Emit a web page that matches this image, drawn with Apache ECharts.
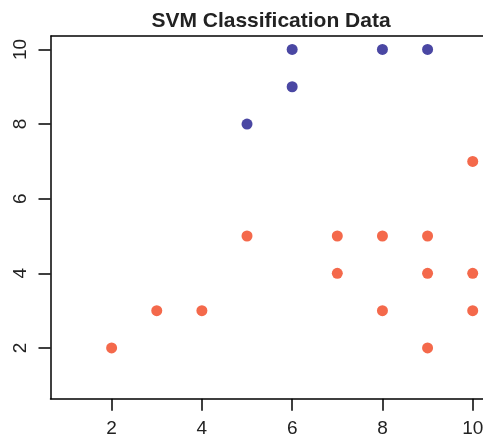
<!DOCTYPE html>
<html>
<head>
<meta charset="utf-8">
<script src="https://cdn.jsdelivr.net/npm/echarts@6/dist/echarts.min.js"></script>
<style>
  html, body { margin: 0; padding: 0; background: #fff; }
  #chart { width: 483px; height: 442px; }
</style>
</head>
<body>
<div id="chart"></div>
<script>
const xTicks = [2, 4, 6, 8, 10];
const yTicks = [2, 4, 6, 8, 10];
// class 1 (blue) and class -1 (orange), [x, y]
const blueX = [5, 6, 6, 8, 9];
const blueY = [8, 10, 9, 10, 10];
const orangeX = [2, 3, 4, 5, 7, 7, 8, 8, 9, 9, 9, 10, 10, 10];
const orangeY = [2, 3, 3, 5, 5, 4, 5, 3, 5, 4, 2, 7, 4, 3];

const pairs = (xs, ys) => xs.map((x, i) => [x, ys[i]]);

const chart = echarts.init(document.getElementById('chart'));

const font = 'Liberation Sans, Arial, sans-serif';
const axisCommon = {
  type: 'value',
  splitLine: { show: false },
  axisLine: { show: true, onZero: false, lineStyle: { color: '#000', width: 1.5 } },
  axisTick: {
    show: true, length: 12, inside: false,
    lineStyle: { color: '#000', width: 1.5 }
  },
  axisLabel: {
    color: '#222', fontSize: 19, fontFamily: font,
    margin: 21, showMinLabel: true, showMaxLabel: true
  }
};

chart.setOption({
  backgroundColor: '#fff',
  animation: false,
  title: {
    text: 'SVM Classification Data',
    left: 266, top: 6, textAlign: 'center',
    textStyle: { fontSize: 21, fontWeight: 'bold', color: '#222', fontFamily: font }
  },
  // the plot box runs past the right edge of the picture, so the x range stops at the edge
  grid: { left: 50.5, top: 36, right: 0, bottom: 43.3, containLabel: false, outerBoundsMode: 'none' },
  xAxis: {
    ...axisCommon,
    min: 0.646, max: 10.228,
    position: 'bottom',
    axisTick: { ...axisCommon.axisTick, customValues: xTicks },
    axisLabel: { ...axisCommon.axisLabel, customValues: xTicks }
  },
  yAxis: {
    ...axisCommon,
    min: 0.64, max: 10.36,
    position: 'left',
    axisTick: { ...axisCommon.axisTick, customValues: yTicks },
    axisLabel: { ...axisCommon.axisLabel, customValues: yTicks, rotate: 90, margin: 20 }
  },
  series: [
    {
      type: 'scatter', data: pairs(blueX, blueY), symbolSize: 11,
      itemStyle: { color: '#4A47A3', opacity: 1 }
    },
    {
      type: 'scatter', data: pairs(orangeX, orangeY), symbolSize: 11,
      itemStyle: { color: '#F4694B', opacity: 1 }
    }
  ],
  // top border of the plot box
  graphic: [{
    type: 'line',
    shape: { x1: 50.5, y1: 36, x2: 490, y2: 36 },
    style: { stroke: '#000', lineWidth: 1.5 },
    silent: true
  }]
});
</script>
</body>
</html>
